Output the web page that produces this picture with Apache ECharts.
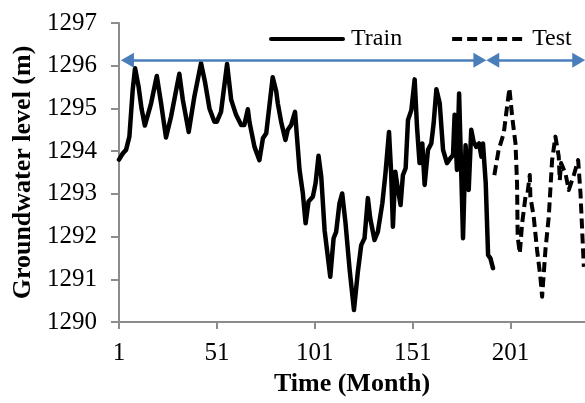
<!DOCTYPE html>
<html>
<head>
<meta charset="utf-8">
<script src="https://cdn.jsdelivr.net/npm/echarts@6/dist/echarts.min.js"></script>
<style>
html,body{margin:0;padding:0;background:#fff;}
#chart{width:585px;height:403px;}
</style>
</head>
<body>
<div id="chart"></div>
<script>
// Time (month, 1-based) and groundwater level (m)
const trainMonth = [1,3,4.6,6.3,8,9.2,11,12.5,14.2,17.4,20.3,22.5,25,27.6,31.8,33.6,36.6,39.5,42.9,45,47.2,49.7,51,53.1,56.2,58.3,60.8,63.4,65,66.8,67.6,70.2,72.7,74.5,76.2,79.5,81.3,82.1,83.8,86,87.2,88.9,90.9,93.2,94.9,96.3,97.8,100,101.4,102.9,104.3,106,108.9,110.6,111.9,113.6,115,116.7,118.8,121,123,124.7,126.4,128.1,129.3,130,131.5,133.2,135.5,137.1,138.9,140,140.9,142.1,143.5,144.8,146,147.4,148.6,150.3,152,153.2,154.5,155.9,157.1,158.8,160.5,161.7,163.1,164.8,166.5,168.5,170.2,171.6,172.4,173.6,174.7,175.5,176.7,178,179.6,180.9,182.1,183.5,184.9,186.1,186.9,188.3,189.5,190.7,192];
const trainLevel = [1293.80,1293.95,1294.03,1294.34,1295.43,1295.94,1295.51,1295.00,1294.60,1295.12,1295.76,1295.12,1294.32,1294.81,1295.81,1295.20,1294.45,1295.28,1296.06,1295.60,1295.00,1294.69,1294.69,1294.92,1296.04,1295.20,1294.85,1294.61,1294.61,1294.98,1294.69,1294.10,1293.79,1294.30,1294.42,1295.73,1295.40,1295.12,1294.69,1294.26,1294.50,1294.61,1294.92,1293.56,1293.01,1292.31,1292.82,1292.93,1293.25,1293.89,1293.40,1292.15,1291.06,1291.96,1292.11,1292.78,1293.01,1292.31,1291.22,1290.28,1291.18,1291.80,1291.96,1292.90,1292.43,1292.40,1291.92,1292.11,1292.78,1293.48,1294.45,1293.48,1292.23,1293.52,1293.09,1292.74,1293.44,1293.60,1294.73,1294.96,1295.68,1294.57,1293.72,1294.18,1293.21,1294.03,1294.18,1294.65,1295.45,1295.12,1294.03,1293.72,1293.83,1293.91,1294.85,1293.56,1295.35,1294.00,1291.96,1294.14,1293.09,1294.50,1294.22,1294.10,1294.18,1293.87,1294.18,1293.25,1291.57,1291.49,1291.26];
const testMonth = [192.7,194.9,197.5,199.2,200.4,201.8,203.5,204.3,204.6,205.7,206.9,208.6,209.6,210.8,211.1,212.8,214.5,216.2,217.1,218.8,220.5,222.2,223.9,225.6,226.1,226.8,229,230.7,233.3,235.5,236.7,238.4];
const testLevel = [1293.44,1294.03,1294.42,1295.04,1295.47,1294.81,1294.18,1293.25,1292.00,1291.61,1292.31,1292.93,1293.00,1293.44,1292.93,1292.47,1291.69,1291.06,1290.59,1291.69,1292.47,1293.79,1294.34,1293.87,1293.32,1293.72,1293.48,1293.09,1293.44,1293.79,1293.01,1291.29];
const xTickLabels = ['1','51','101','151','201'];
const yTicks = [1290,1291,1292,1293,1294,1295,1296,1297];
// Period annotations (months) for the blue arrows
const trainPeriod = [5.3, 185.3];
const testPeriod = [191.9, 235.8];
const periodArrowLevel = 1296.13;

const toPairs = (ms, vs) => ms.map((m, i) => [m - 1, vs[i]]);
const FONT = '"Liberation Serif","Times New Roman",serif';
const AXIS_GRAY = '#8c8c8c';
const ARROW_BLUE = '#4a7ebb';

function arrowLine(period) {
  return {
    silent: true,
    symbol: ['triangle', 'triangle'],
    symbolSize: [15, 13],
    label: { show: false },
    lineStyle: { color: ARROW_BLUE, width: 2.5, type: 'solid' },
    itemStyle: { color: ARROW_BLUE },
    emphasis: { disabled: true },
    animation: false,
    data: [[{ coord: [period[0] - 1, periodArrowLevel] }, { coord: [period[1] - 1, periodArrowLevel] }]]
  };
}

const chart = echarts.init(document.getElementById('chart'));
chart.setOption({
  animation: false,
  backgroundColor: '#fff',
  grid: { left: 119, right: 0, top: 23, bottom: 81, containLabel: false },
  legend: {
    left: 264, top: 22,
    itemWidth: 72, itemHeight: 20, itemGap: 48,
    textStyle: { fontFamily: FONT, fontSize: 24, color: '#000', padding: [0, 0, 0, 3] },
    lineStyle: { width: 4 },
    itemStyle: { opacity: 0 },
    data: ['Train', 'Test']
  },
  xAxis: {
    type: 'value', min: 0, max: 238, interval: 50,
    name: 'Time (Month)', nameLocation: 'middle', nameGap: 37,
    nameTextStyle: { fontFamily: FONT, fontSize: 26, fontWeight: 'bold', color: '#000' },
    axisLine: { show: true, lineStyle: { color: AXIS_GRAY, width: 2 } },
    axisTick: { show: true, inside: false, length: 7, lineStyle: { color: AXIS_GRAY, width: 2 } },
    axisLabel: { fontFamily: FONT, fontSize: 25, color: '#000', margin: 19,
      formatter: v => xTickLabels[Math.round(v / 50)] ?? '', showMaxLabel: false },
    splitLine: { show: false }
  },
  yAxis: {
    type: 'value', min: yTicks[0], max: yTicks[yTicks.length - 1], interval: 1,
    name: 'Groundwater level (m)', nameLocation: 'middle', nameGap: 79, nameRotate: 90,
    nameTextStyle: { fontFamily: FONT, fontSize: 26, fontWeight: 'bold', color: '#000' },
    axisLine: { show: true, lineStyle: { color: AXIS_GRAY, width: 2 } },
    axisTick: { show: true, inside: false, length: 8, lineStyle: { color: AXIS_GRAY, width: 2 } },
    axisLabel: { fontFamily: FONT, fontSize: 25, color: '#000', margin: 22,
      formatter: v => String(v) },
    splitLine: { show: false }
  },
  series: [
    {
      name: 'Train', type: 'line', data: toPairs(trainMonth, trainLevel),
      symbol: 'none', showSymbol: false, smooth: false,
      lineStyle: { color: '#000', width: 4.5, join: 'round', cap: 'round' },
      itemStyle: { color: '#000' },
      markLine: arrowLine(trainPeriod)
    },
    {
      name: 'Test', type: 'line', data: toPairs(testMonth, testLevel),
      symbol: 'none', showSymbol: false, smooth: false,
      lineStyle: { color: '#000', width: 4, type: [10, 5], join: 'round' },
      itemStyle: { color: '#000' },
      markLine: arrowLine(testPeriod)
    }
  ]
});
</script>
</body>
</html>
